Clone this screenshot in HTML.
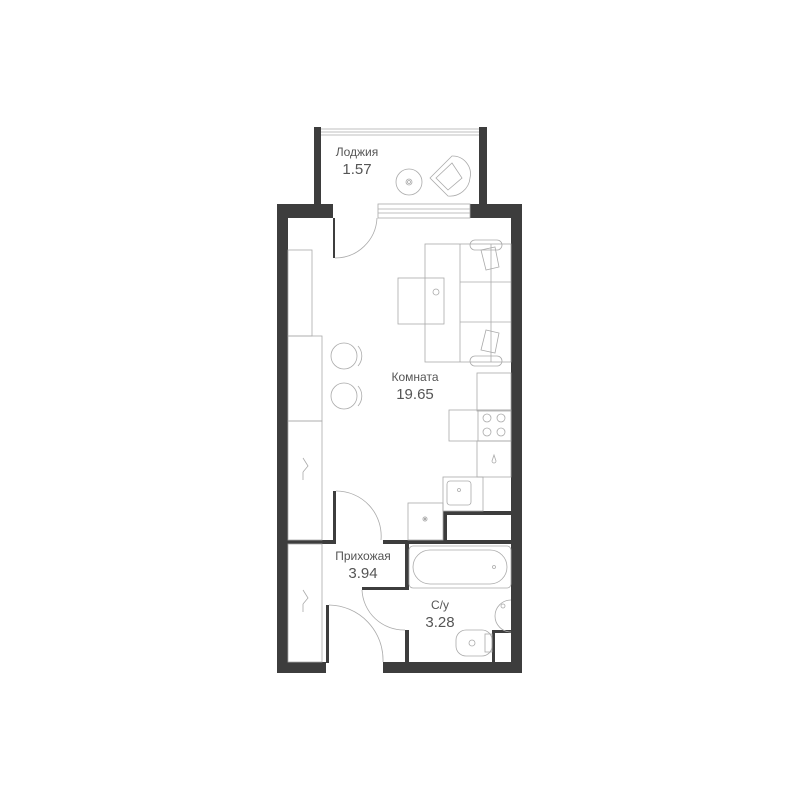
<!DOCTYPE html>
<html><head><meta charset="utf-8"><style>
html,body{margin:0;padding:0;background:#fff;width:800px;height:800px;overflow:hidden}
text{font-family:"Liberation Sans","DejaVu Sans",sans-serif;fill:#555;text-anchor:middle}
</style></head><body>
<svg width="800" height="800" viewBox="0 0 800 800" xmlns="http://www.w3.org/2000/svg">
<g fill="#3d3d3d">
<rect x="277" y="204" width="11" height="469"/>
<rect x="511" y="204" width="11" height="469"/>
<rect x="277" y="204" width="56" height="14"/>
<rect x="470" y="204" width="52" height="14"/>
<rect x="277" y="662" width="49" height="11"/>
<rect x="383" y="662" width="139" height="11"/>
<rect x="314" y="127" width="7" height="78"/>
<rect x="479" y="127" width="8" height="78"/>
<rect x="288" y="540" width="47" height="4"/>
<rect x="383" y="540" width="128" height="4"/>
<rect x="333" y="491" width="3" height="53"/>
<rect x="333" y="218" width="2" height="40"/>
<rect x="405" y="544" width="4" height="46"/>
<rect x="362" y="587" width="47" height="3"/>
<rect x="405" y="630" width="4" height="33"/>
<rect x="326" y="605" width="3" height="58"/>
<rect x="443" y="511" width="68" height="4"/>
<rect x="443" y="511" width="4" height="30"/>
<rect x="492" y="630" width="19" height="3"/>
<rect x="492" y="630" width="3" height="33"/>
</g>
<g fill="none" stroke="#aaa" stroke-width="0.8">
<line x1="321" y1="129" x2="479" y2="129"/><line x1="321" y1="132" x2="479" y2="132"/><line x1="321" y1="135" x2="479" y2="135"/>
<rect x="378" y="204" width="92" height="14"/><line x1="378" y1="209" x2="470" y2="209"/><line x1="378" y1="213" x2="470" y2="213"/>
<circle cx="409" cy="182" r="13"/><circle cx="409" cy="182" r="3"/><circle cx="409" cy="182" r="1.5"/>
<path d="M430 178 L452 156 A18 18 0 0 1 470 178 A20 20 0 0 1 448 196 Z"/>
<path d="M436 178 L452 163 L462 178 L448 190 Z"/>
<path d="M335 258 A42 42 0 0 0 377 218"/>
<path d="M336 491 A45 45 0 0 1 381 540"/>
<path d="M329 605 A55 55 0 0 1 383 662"/>
<path d="M362 590 A42 42 0 0 0 405 630"/>
<rect x="288" y="250" width="24" height="86"/>
<rect x="288" y="336" width="34" height="85"/>
<rect x="288" y="421" width="34" height="119"/>
<rect x="288" y="544" width="34" height="118"/>
<path d="M303 458 l5 8 -5 6 M303 480 l0 -8"/>
<path d="M303 590 l5 8 -5 6 M303 612 l0 -8"/>
<circle cx="344" cy="356" r="13"/><circle cx="344" cy="396" r="13"/>
<path d="M358 346 A15 15 0 0 1 358 366"/><path d="M358 386 A15 15 0 0 1 358 406"/>
<rect x="398" y="278" width="46" height="46"/>
<circle cx="436" cy="292" r="3"/>
<rect x="425" y="244" width="86" height="118"/>
<line x1="460" y1="244" x2="460" y2="362"/>
<line x1="460" y1="282" x2="511" y2="282"/><line x1="460" y1="322" x2="511" y2="322"/>
<line x1="491" y1="244" x2="491" y2="362"/>
<rect x="470" y="240" width="32" height="10" rx="5"/>
<rect x="470" y="356" width="32" height="10" rx="5"/>
<path d="M481 250 l14 -3 4 20 -13 3 Z"/>
<path d="M481 350 l14 3 4 -20 -13 -3 Z"/>
<rect x="477" y="373" width="34" height="38"/>
<rect x="449" y="410" width="62" height="31"/>
<rect x="478" y="410" width="33" height="31"/>
<circle cx="487" cy="418" r="4"/><circle cx="501" cy="418" r="4"/><circle cx="487" cy="432" r="4"/><circle cx="501" cy="432" r="4"/>
<rect x="477" y="441" width="34" height="36"/>
<path d="M494 455 l-2 6 a2 2 0 0 0 4 0 Z"/>
<rect x="443" y="477" width="40" height="34"/>
<rect x="447" y="481" width="24" height="24" rx="3"/>
<circle cx="459" cy="490" r="1.5"/>
<rect x="408" y="503" width="35" height="37"/>
<path d="M425 516 l0 6 M422 519 l6 0 M423 517 l4 4 M427 517 l-4 4"/>
<rect x="409" y="546" width="102" height="42" rx="4"/>
<rect x="413" y="550" width="94" height="34" rx="17"/>
<circle cx="494" cy="567" r="1.5"/>
<path d="M511 600 A16 16 0 0 0 511 632"/>
<circle cx="503" cy="606" r="2"/>
<rect x="456" y="630" width="36" height="26" rx="10"/>
<rect x="485" y="634" width="7" height="18"/>
<circle cx="472" cy="643" r="3"/>
</g>
<text x="357" y="156" font-size="12">Лоджия</text>
<text x="357" y="174" font-size="15">1.57</text>
<text x="415" y="381" font-size="12">Комната</text>
<text x="415" y="399" font-size="15">19.65</text>
<text x="363" y="560" font-size="12">Прихожая</text>
<text x="363" y="578" font-size="15">3.94</text>
<text x="440" y="609" font-size="12">С/у</text>
<text x="440" y="627" font-size="15">3.28</text>
</svg>
</body></html>
